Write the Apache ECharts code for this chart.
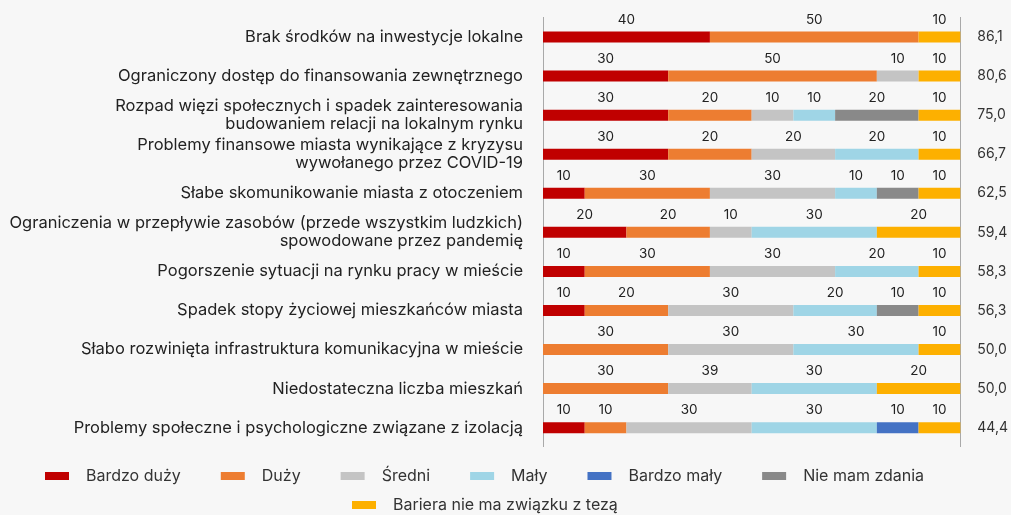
<!DOCTYPE html>
<html>
<head>
<meta charset="utf-8">
<script src="https://cdn.jsdelivr.net/npm/echarts@6/dist/echarts.min.js"></script>
<style>
html,body{margin:0;padding:0;background:#f7f7f7;}
#chart{width:1011px;height:515px;}
</style>
</head>
<body>
<div id="chart"></div>
<script>
const categories = [
  'Brak środków na inwestycje lokalne',
  'Ograniczony dostęp do finansowania zewnętrznego',
  'Rozpad więzi społecznych i spadek zainteresowania\nbudowaniem relacji na lokalnym rynku',
  'Problemy finansowe miasta wynikające z kryzysu\nwywołanego przez COVID-19',
  'Słabe skomunikowanie miasta z otoczeniem',
  'Ograniczenia w przepływie zasobów (przede wszystkim ludzkich)\nspowodowane przez pandemię',
  'Pogorszenie sytuacji na rynku pracy w mieście',
  'Spadek stopy życiowej mieszkańców miasta',
  'Słabo rozwinięta infrastruktura komunikacyjna w mieście',
  'Niedostateczna liczba mieszkań',
  'Problemy społeczne i psychologiczne związane z izolacją'
];
const seriesNames = ['Bardzo duży','Duży','Średni','Mały','Bardzo mały','Nie mam zdania','Bariera nie ma związku z tezą'];
const bardzoDuzy   = [40,30,30,30,10,20,10,10,null,null,10];
const duzy         = [50,50,20,20,30,20,30,20,30,30,10];
const sredni       = [null,10,10,20,30,10,30,30,30,20,30];
const maly         = [null,null,10,20,10,30,20,20,30,30,30];
const bardzoMaly   = [null,null,null,null,null,null,null,null,null,null,10];
const nieMamZdania = [null,null,20,null,10,null,null,10,null,null,null];
const bariera      = [10,10,10,10,10,20,10,10,10,20,10];
// labels printed in the reference that differ from the drawn value
const labelOverrides = [{series:'Średni', row:9, text:'39'}];
const indexValues = [86.1,80.6,75.0,66.7,62.5,59.4,58.3,56.3,50.0,50.0,44.4];
const colors = ['#c00000','#ed7d31','#c4c4c4','#9fd5e6','#4472c4','#898989','#fdb000'];

const allData = [bardzoDuzy,duzy,sredni,maly,bardzoMaly,nieMamZdania,bariera];
const FONT = 'Inter';

const series = seriesNames.map((name,i)=>({
  name: name,
  type: 'bar',
  stack: 'total',
  barWidth: 11,
  yAxisIndex: 0,
  itemStyle: {color: colors[i]},
  label: {
    show: true,
    position: 'top',
    distance: 5,
    color: '#222',
    fontFamily: FONT,
    fontSize: 13.5,
    formatter: function(p){
      const o = labelOverrides.find(d=>d.series===name && d.row===p.dataIndex);
      return o ? o.text : String(p.value);
    }
  },
  data: allData[i]
}));

const legendText = {color:'#333', fontFamily:FONT, fontSize:16, padding:[0,0,0,12]};
const chart = echarts.init(document.getElementById('chart'));
chart.setOption({
  backgroundColor: '#f7f7f7',
  animation: false,
  color: colors,
  grid: {left:543, right:49, top:17.5, bottom:67.8, containLabel:false},
  xAxis: {type:'value', min:0, max:100, show:false},
  yAxis: [{
    type:'category', data:categories, inverse:true,
    axisTick:{show:false},
    axisLine:{show:true, lineStyle:{color:'#a0a0a0', type:'dotted', width:1}},
    axisLabel:{color:'#222', fontFamily:FONT, fontSize:16.5, margin:20, lineHeight:18, align:'right'}
  },{
    type:'category', data:indexValues.map(v=>v.toFixed(1).replace('.',',')), inverse:true, position:'right',
    axisTick:{show:false},
    axisLine:{show:true, lineStyle:{color:'#a0a0a0', type:'dotted', width:1}},
    axisLabel:{color:'#333', fontFamily:FONT, fontSize:14, margin:17, align:'left'}
  }],
  legend: [{
    data: seriesNames.slice(0,6),
    left: 45, top: 468, padding: 0,
    itemWidth:24, itemHeight:8, itemGap:40, icon:'rect',
    textStyle: legendText
  },{
    data: seriesNames.slice(6),
    left: 352, top: 497, padding: 0,
    itemWidth:24, itemHeight:8, icon:'rect',
    textStyle: legendText
  }],
  series: series
});
</script>
</body>
</html>
